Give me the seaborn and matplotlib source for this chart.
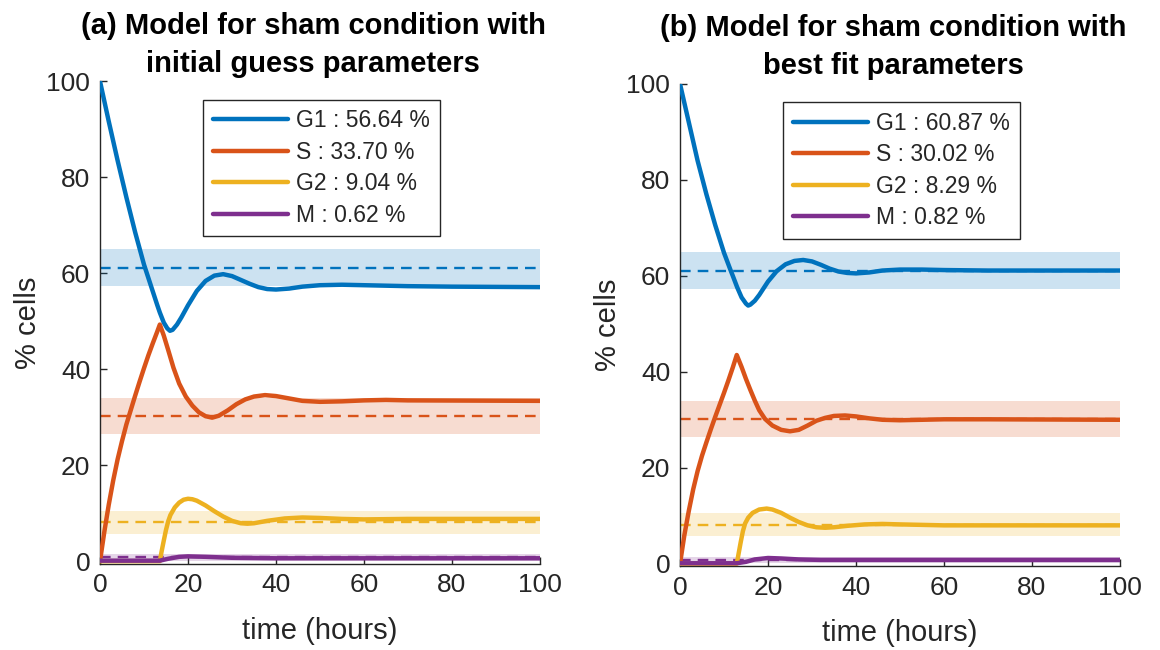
import matplotlib
matplotlib.use("Agg")
import matplotlib.pyplot as plt
import pandas as pd
import seaborn as sns

sns.set_style("ticks")
plt.rcParams["font.family"] = ["Liberation Sans", "DejaVu Sans"]

# ---------------------------------------------------------------
# data
# ---------------------------------------------------------------
phases = ["G1", "S", "G2", "M"]
colors = ["#0072BD", "#D95319", "#EDB120", "#7E2F8E"]

# experimental sham data: mean and band (same in both panels)
data_mean = [61.1, 30.2, 8.1, 0.8]
data_low = [57.3, 26.5, 5.7, 0.1]
data_high = [65.0, 33.9, 10.5, 1.5]

# (a) initial guess parameters
t_g1_a = [0, 2, 4, 6, 8, 10, 12, 13, 13.6, 14.5, 15.3, 15.9, 16.5, 17.5, 18.5, 20, 22, 24, 26, 28,
          30, 32, 34, 36, 38, 40, 43, 46, 50, 55, 60, 70, 80, 100]
g1_a = [100, 91.6, 83.5, 75.8, 68.5, 61.8, 56.2, 53.4, 51.8, 49.7, 48.5, 48.0, 48.2, 49.3, 50.8, 53.3,
        56.3, 58.4, 59.5, 59.8, 59.4, 58.6, 57.8, 57.1, 56.7, 56.6, 56.8, 57.2, 57.5, 57.6, 57.5, 57.3,
        57.2, 57.1]
t_s_a = [0, 1, 2, 3, 4, 5, 6, 7, 8, 9, 10, 11, 12, 13, 13.6, 14.5, 15.5, 16.7, 18, 19.5, 21, 22.5,
         24, 25.5, 27, 29, 31, 33, 35, 37.5, 40, 43, 46, 50, 55, 60, 65, 70, 100]
s_a = [0, 6.2, 11.8, 16.8, 21.2, 25.0, 28.5, 31.5, 34.5, 37.4, 40.2, 42.9, 45.4, 47.8, 49.3, 47.0,
       44.0, 40.3, 37.0, 34.3, 32.4, 31.0, 30.2, 29.9, 30.3, 31.4, 32.7, 33.7, 34.3, 34.6, 34.4,
       33.9, 33.4, 33.2, 33.3, 33.5, 33.6, 33.5, 33.4]
t_g2_a = [0, 13.6, 14, 14.5, 15, 15.5, 16, 17, 18, 19, 20, 21, 22, 24, 26, 28, 30, 32, 33.5, 35,
          38, 42, 46, 50, 55, 60, 70, 100]
g2_a = [0, 0, 2.0, 4.3, 6.5, 8.3, 9.6, 11.2, 12.2, 12.8, 13.0, 12.9, 12.6, 11.6, 10.4, 9.3, 8.4,
        7.9, 7.8, 7.9, 8.4, 8.9, 9.1, 9.0, 8.8, 8.7, 8.8, 8.8]
t_m_a = [0, 13.6, 15.5, 18, 20, 24, 30, 40, 100]
m_a = [0.1, 0.1, 0.5, 0.9, 1.0, 0.9, 0.7, 0.6, 0.6]
pct_a = [56.64, 33.70, 9.04, 0.62]

# (b) best fit parameters
t_g1_b = [0, 2, 4, 6, 8, 10, 11.4, 12, 13, 14, 15, 15.5, 16, 17, 18, 20, 22, 24, 26, 28, 30, 32, 34,
          36, 38, 40, 43, 46, 50, 55, 60, 70, 100]
g1_b = [100, 92.0, 84.0, 77.0, 70.6, 64.8, 61.4, 60.0, 57.6, 55.5, 54.2, 53.8, 54.0, 54.8, 56.0,
        58.8, 61.0, 62.4, 63.1, 63.3, 63.0, 62.3, 61.5, 60.9, 60.6, 60.5, 60.7, 61.1, 61.3, 61.3,
        61.2, 61.1, 61.1]
t_s_b = [0, 1, 2, 3, 4, 5, 6, 7, 8, 9, 10, 11, 12, 12.9, 14, 15, 16, 17, 18, 19.3, 21, 23, 25, 27,
         29, 31, 33, 35, 37.5, 40, 43, 46, 50, 55, 60, 70, 100]
s_b = [0, 6.0, 11.0, 15.5, 19.3, 22.5, 25.3, 28.0, 30.6, 33.1, 35.6, 38.2, 40.9, 43.5, 41.0, 38.5,
       36.2, 34.0, 32.0, 30.2, 28.8, 27.9, 27.6, 27.9, 28.8, 29.8, 30.4, 30.8, 30.9, 30.7, 30.3,
       30.0, 29.9, 30.0, 30.1, 30.1, 30.0]
t_g2_b = [0, 12.9, 13.3, 13.8, 14.3, 14.8, 15.5, 16.5, 18, 19.7, 21, 23, 25, 27, 29, 31, 33, 35,
          38, 42, 46, 50, 55, 60, 100]
g2_b = [0, 0, 2.0, 4.5, 6.8, 8.4, 9.6, 10.6, 11.3, 11.5, 11.3, 10.6, 9.6, 8.7, 8.0, 7.6, 7.5, 7.6,
        7.9, 8.2, 8.3, 8.2, 8.1, 8.0, 8.0]
t_m_b = [0, 12.9, 15, 17, 20, 23, 27, 32, 100]
m_b = [0.1, 0.1, 0.4, 0.9, 1.2, 1.1, 0.9, 0.8, 0.8]
pct_b = [60.87, 30.02, 8.29, 0.82]

titles = ["(a) Model for sham condition with\ninitial guess parameters",
          "(b) Model for sham condition with\nbest fit parameters"]

panels = [
    ([t_g1_a, t_s_a, t_g2_a, t_m_a], [g1_a, s_a, g2_a, m_a], pct_a),
    ([t_g1_b, t_s_b, t_g2_b, t_m_b], [g1_b, s_b, g2_b, m_b], pct_b),
]

# ---------------------------------------------------------------
# plot
# ---------------------------------------------------------------
fig = plt.figure(figsize=(11.6, 6.5), dpi=100)
axes = [fig.add_axes([0.0862, 0.133, 0.3793, 0.742]),
        fig.add_axes([0.5862, 0.129, 0.3793, 0.742])]
ink = "#262626"

for ax, (times, values, pct), title in zip(axes, panels, titles):
    # measured band + mean
    for i, col in enumerate(colors):
        ax.axhspan(data_low[i], data_high[i], color=col, alpha=0.2, lw=0, zorder=1)
        ax.axhline(data_mean[i], color=col, lw=1.7, ls=(0, (4.5, 3)), zorder=2)

    # model curves
    for i, name in enumerate(phases):
        df = pd.DataFrame({"time": times[i], "pct": values[i]})
        sns.lineplot(data=df, x="time", y="pct", ax=ax, color=colors[i], lw=3.2,
                     estimator=None, sort=False, zorder=3,
                     label=f"{name} : {pct[i]:.2f} %")

    ax.set_xlim(0, 100)
    ax.set_ylim(-0.5, 100)
    ax.set_xticks(range(0, 101, 20))
    ax.set_yticks(range(0, 101, 20))
    ax.tick_params(direction="in", length=5, width=1, colors=ink, labelsize=19, pad=7)
    for side in ["top", "right"]:
        ax.spines[side].set_visible(False)
    for side in ["left", "bottom"]:
        ax.spines[side].set_color(ink)
        ax.spines[side].set_linewidth(1)
    ax.set_xlabel("time (hours)", fontsize=21, color=ink, labelpad=14)
    ax.set_ylabel("% cells", fontsize=21, color=ink, labelpad=3)
    ax.set_title(title, fontsize=21, fontweight="bold", color="black", pad=7,
                 linespacing=1.45, x=0.485)

    leg = ax.legend(loc="upper left", bbox_to_anchor=(0.234, 0.962), fontsize=16.5,
                    frameon=True, fancybox=False, framealpha=1, edgecolor=ink,
                    handlelength=3.3, handletextpad=0.35, labelspacing=0.37,
                    borderpad=0.42, borderaxespad=0)
    leg.get_frame().set_linewidth(1)
    for line in leg.get_lines():
        line.set_linewidth(3.2)
    for txt in leg.get_texts():
        txt.set_color(ink)

fig.savefig("out.png", dpi=100)
